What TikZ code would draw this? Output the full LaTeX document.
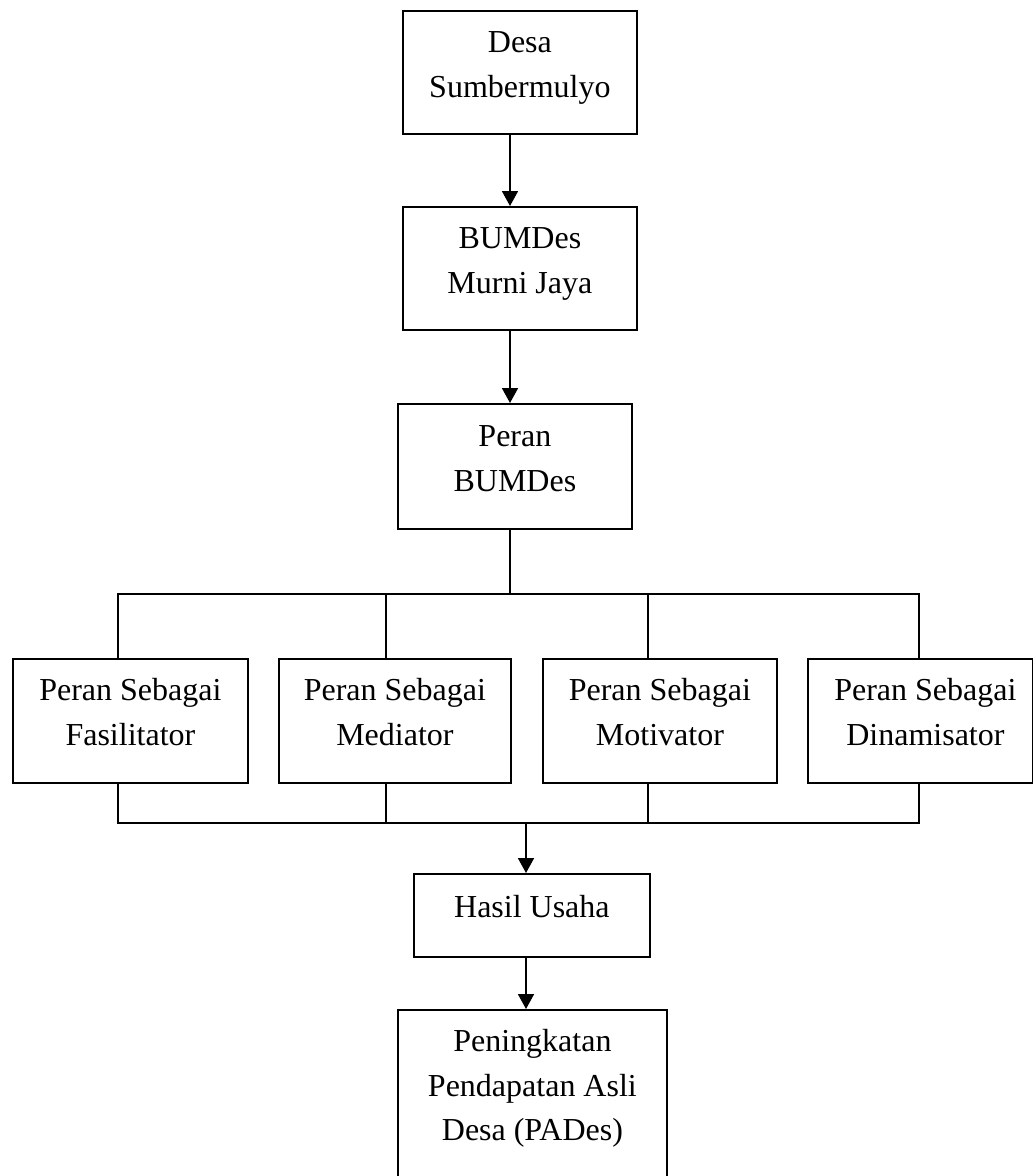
\documentclass[tikz,border=0pt]{standalone}
\usepackage{fontspec}
\setmainfont{Liberation Serif}
\usetikzlibrary{arrows.meta}
\newcommand{\boxtext}[4]{\parbox[c][#2pt][t]{#1pt}{\centering\rule{0pt}{#3pt}#4}}
\tikzset{
  box/.style={draw, line width=1.8pt, inner sep=0pt, anchor=north west, font=\fontsize{32}{44.5}\selectfont},
  ln/.style={line width=1.8pt},
  arr/.style={line width=1.8pt, -{Triangle[width=16pt,length=15pt]}}
}
\begin{document}
\begin{tikzpicture}[x=1pt,y=-1pt]
\useasboundingbox (0,0) rectangle (1033,1176);
\clip (0,0) rectangle (1033,1176);
\fill[white] (0,0) rectangle (1033,1176);
\node[box] (b1) at (402,10) {\boxtext{234}{123}{42}{Desa\\Sumbermulyo}};
\node[box] (b2) at (402,206) {\boxtext{234}{123}{42}{BUMDes\\Murni Jaya}};
\node[box] (b3) at (397,403) {\boxtext{234}{125}{43}{Peran\\BUMDes}};
\node[box] (f1) at (12,658) {\boxtext{235}{124}{42}{Peran Sebagai\\Fasilitator}};
\node[box] (f2) at (278,658) {\boxtext{232}{124}{42}{Peran Sebagai\\Mediator}};
\node[box] (f3) at (542,658) {\boxtext{234}{124}{42}{Peran Sebagai\\Motivator}};
\node[box] (f4) at (807,658) {\boxtext{225}{124}{42}{\hspace*{10pt}Peran Sebagai\\\hspace*{10pt}Dinamisator}};
\node[box] (h) at (413,873) {\boxtext{236}{83}{44}{Hasil Usaha}};
\node[box] (p) at (397,1009) {\boxtext{269}{185}{42}{Peningkatan\\Pendapatan Asli\\Desa (PADes)}};
\coordinate (ax) at (510,0);
\coordinate (bx) at (526,0);
\coordinate (tb) at (0,594);
\coordinate (bb) at (0,823);
\coordinate (v1) at (118,0);
\coordinate (v2) at (386,0);
\coordinate (v3) at (648,0);
\coordinate (v4) at (919,0);
\draw[arr] (b1.south -| ax) -- (b2.north -| ax);
\draw[arr] (b2.south -| ax) -- (b3.north -| ax);
\draw[ln] (b3.south -| ax) -- (ax |- tb);
\draw[ln, line cap=rect] (v1 |- tb) -- (v4 |- tb);
\draw[ln, line cap=rect] (v1 |- bb) -- (v4 |- bb);
\foreach \i in {1,2,3,4}{
  \draw[ln] (v\i |- tb) -- (f\i.north -| v\i);
  \draw[ln] (f\i.south -| v\i) -- (v\i |- bb);
}
\draw[arr] (bx |- bb) -- (h.north -| bx);
\draw[arr] (h.south -| bx) -- (p.north -| bx);
\end{tikzpicture}
\end{document}
